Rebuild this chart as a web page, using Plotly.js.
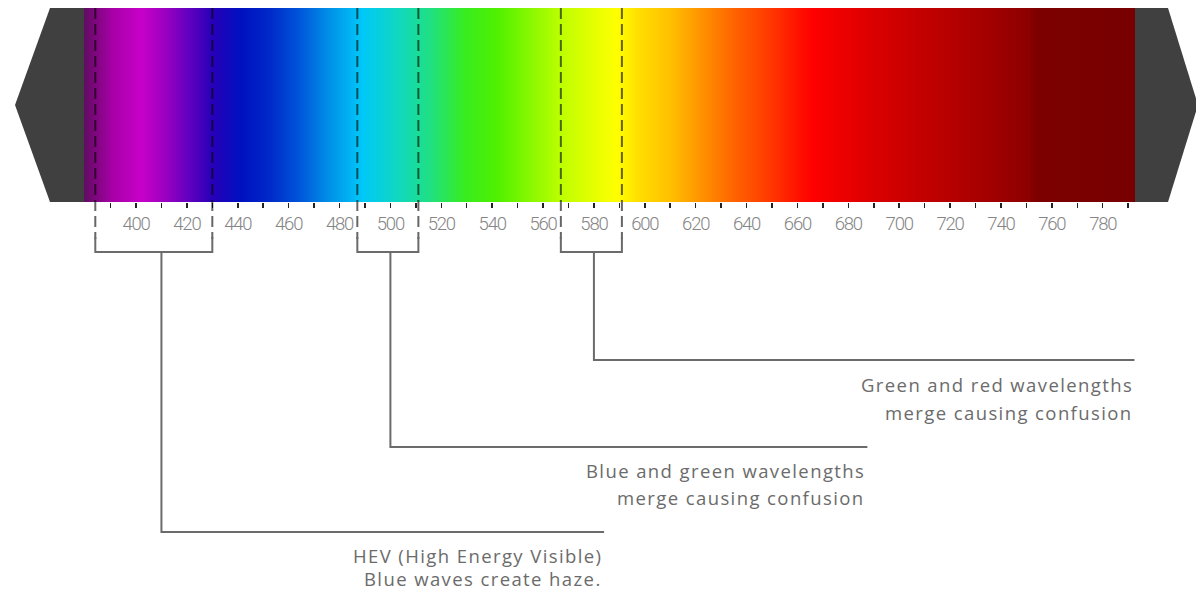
<!DOCTYPE html>
<html>
<head>
<meta charset="utf-8">
<script src="https://cdn.plot.ly/plotly-3.0.1.min.js"></script>
<style>
  html, body { margin: 0; padding: 0; background: #fff; }
  #chart { width: 1196px; height: 591px; }
  .annotation-text { letter-spacing: 1.4px; }
  .xtick text { letter-spacing: -1.2px; }
</style>
</head>
<body>
<div id="chart"></div>
<script>
// ---- data (wavelengths in nm) ----
const spectrumStart = 379;
const spectrumEnd = 793;
const colorStopNm = [379, 381, 391, 402, 412, 421, 430, 441, 452, 463, 476, 489, 503, 516, 529, 542, 555, 568, 581, 589, 597, 610, 623, 636, 647, 656, 666, 686, 705, 725, 745, 751, 754, 793];
const colorStopHex = ['#5a1060', '#6a0a6a', '#a800a8', '#c800c8', '#9800c0', '#6000c0', '#2800b8', '#0010c0', '#0028c8', '#0050d8', '#0090e8', '#00c8f8', '#10d8c0', '#20e080', '#38ec20', '#50f000', '#88f800', '#c0ff00', '#e8ff00', '#ffff00', '#ffe000', '#ffc000', '#ff9000', '#ff6000', '#ff4000', '#ff2000', '#ff0000', '#e00000', '#c80000', '#b00000', '#960000', '#8c0000', '#7c0000', '#780000'];
const majorTicks = [400, 420, 440, 460, 480, 500, 520, 540, 560, 580, 600, 620, 640, 660, 680, 700, 720, 740, 760, 780];
const minorTicks = [390, 410, 430, 450, 470, 490, 510, 530, 550, 570, 590, 610, 630, 650, 670, 690, 710, 730, 750, 770, 790];
const bracketStart = [384, 487, 567];
const bracketEnd = [430, 511, 591];
const stemAt = [410, 500, 580];
const calloutEnd = [584, 687.5, 792.5];
const calloutLine1 = ['HEV (High Energy Visible)', 'Blue and green wavelengths', 'Green and red wavelengths'];
const calloutLine2 = ['Blue waves create haze.', 'merge causing confusion', 'merge causing confusion'];

// ---- layout geometry (pixels) ----
const W = 1196, H = 591;
const px400 = 136, pxPerNm = 2.544;
const nmAt = px => 400 + (px - px400) / pxPerNm;
const bandTop = 8, bandBottom = 202;
const dashBottom = 239, bracketY = 252;
const calloutY = [532, 447, 360];
const textGap = [[23, 46], [23, 50], [24, 52]];

const lo = colorStopNm[0], hi = colorStopNm[colorStopNm.length - 1];
const colorscale = colorStopNm.map((v, i) => [(v - lo) / (hi - lo), colorStopHex[i]]);

const traces = [{
  type: 'scatter',
  mode: 'lines',
  x: [spectrumStart, spectrumEnd, spectrumEnd, spectrumStart, spectrumStart],
  y: [bandTop, bandTop, bandBottom, bandBottom, bandTop],
  fill: 'toself',
  line: { width: 0 },
  fillgradient: { type: 'horizontal', start: lo, stop: hi, colorscale: colorscale },
  hoverinfo: 'skip',
  showlegend: false
}];

const shapes = [];
const pp = px => px / W;
const capColor = '#404040';
// end caps
shapes.push({
  type: 'path', xref: 'paper', yref: 'y',
  path: `M ${pp(50)},${bandTop} L ${pp(84)},${bandTop} L ${pp(84)},${bandBottom} L ${pp(50)},${bandBottom} L ${pp(15)},105 Z`,
  fillcolor: capColor, line: { width: 0 }
});
shapes.push({
  type: 'path', xref: 'paper', yref: 'y',
  path: `M ${pp(1135)},${bandTop} L ${pp(1168)},${bandTop} L ${pp(1198)},105 L ${pp(1168)},${bandBottom} L ${pp(1135)},${bandBottom} Z`,
  fillcolor: capColor, line: { width: 0 }
});

const lineGray = '#6b6b6b';
const annotations = [];
for (let i = 0; i < bracketStart.length; i++) {
  [bracketStart[i], bracketEnd[i]].forEach(x => {
    shapes.push({
      type: 'line', xref: 'x', yref: 'y', x0: x, x1: x, y0: bandTop, y1: dashBottom,
      line: { color: 'rgba(0,0,0,0.6)', width: 2, dash: '11px,5px' }
    });
  });
  shapes.push({
    type: 'path', xref: 'x', yref: 'y',
    path: `M ${bracketStart[i]},${dashBottom - 2} L ${bracketStart[i]},${bracketY} L ${bracketEnd[i]},${bracketY} L ${bracketEnd[i]},${dashBottom - 2}`,
    line: { color: lineGray, width: 2 }
  });
  shapes.push({
    type: 'path', xref: 'x', yref: 'y',
    path: `M ${stemAt[i]},${bracketY} L ${stemAt[i]},${calloutY[i]} L ${calloutEnd[i]},${calloutY[i]}`,
    line: { color: lineGray, width: 2 }
  });
  [calloutLine1[i], calloutLine2[i]].forEach((t, k) => {
    annotations.push({
      xref: 'x', yref: 'y', x: calloutEnd[i], y: calloutY[i] + textGap[i][k],
      xanchor: 'right', yanchor: 'middle', showarrow: false, text: t,
      font: { family: 'Open Sans, Noto Sans, sans-serif', size: 18.5, color: '#6b6b6b' }
    });
  });
}

const layout = {
  width: W, height: H,
  margin: { l: 0, r: 0, t: 0, b: 0 },
  paper_bgcolor: '#ffffff', plot_bgcolor: '#ffffff',
  showlegend: false,
  xaxis: {
    range: [nmAt(0), nmAt(W)],
    anchor: 'free', position: 1 - bandBottom / H, side: 'bottom',
    showgrid: false, zeroline: false, showline: false,
    tickmode: 'array', tickvals: majorTicks, ticktext: majorTicks.map(String),
    ticks: 'outside', ticklen: 5, tickwidth: 1.5, tickcolor: '#222',
    ticklabelstandoff: 0,
    tickfont: { family: 'Roboto, sans-serif', weight: 300, size: 18.5, color: '#858585' },
    minor: { tickmode: 'array', tickvals: minorTicks, ticks: 'outside', ticklen: 5, tickwidth: 1.5, tickcolor: '#222', showgrid: false },
    fixedrange: true
  },
  yaxis: { range: [H, 0], visible: false, fixedrange: true },
  shapes: shapes,
  annotations: annotations
};

Plotly.newPlot('chart', traces, layout, { displayModeBar: false, staticPlot: true });
</script>
</body>
</html>
